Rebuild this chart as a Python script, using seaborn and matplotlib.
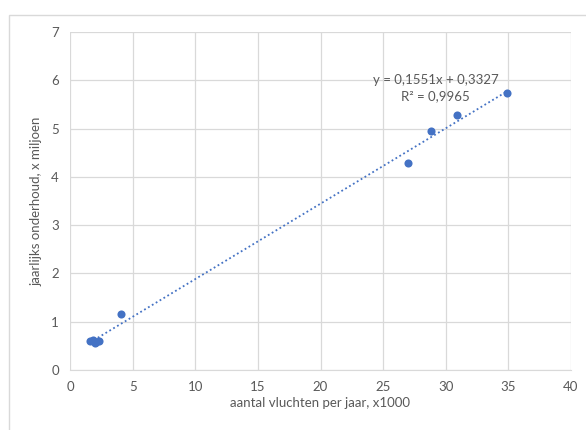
import numpy as np
import pandas as pd
import seaborn as sns
from matplotlib import pyplot as plt
from matplotlib.patches import Rectangle

# vluchten (x1000) en jaarlijks onderhoud (x miljoen)
vluchten = [1.6, 1.8, 2.0, 2.1, 2.3, 4.1, 27.0, 28.8, 30.9, 34.9]
onderhoud = [0.60, 0.62, 0.56, 0.59, 0.61, 1.15, 4.28, 4.94, 5.28, 5.74]
x_ticks = [0, 5, 10, 15, 20, 25, 30, 35, 40]
y_ticks = [0, 1, 2, 3, 4, 5, 6, 7]
trend_label = "y = 0,1551x + 0,3327\nR² = 0,9965"

df = pd.DataFrame({"vluchten": vluchten, "onderhoud": onderhoud})

sns.set_style("white")
plt.rcParams['font.family'] = ['Lato', 'DejaVu Sans']

blue = "#4472c4"
grey = "#595959"

fig = plt.figure(figsize=(5.86, 4.30), dpi=100)
ax = fig.add_axes([70 / 586, 1 - 370 / 430, 501 / 586, 338 / 430])

# light chart border (Excel style)
fig.patches.append(Rectangle((9 / 586, -0.1), 1.2, 1.1 - 15 / 430,
                             transform=fig.transFigure, fill=False,
                             edgecolor="#d9d9d9", linewidth=1))

sns.regplot(data=df, x="vluchten", y="onderhoud", ax=ax, ci=None,
            scatter_kws={"s": 34, "color": blue, "alpha": 1, "linewidths": 0, "zorder": 3},
            line_kws={"color": blue, "linestyle": (0, (1, 1.5)), "linewidth": 1.3})

ax.set_xlim(0, 40)
ax.set_ylim(0, 7)
ax.set_xticks(x_ticks)
ax.set_yticks(y_ticks)
ax.grid(True, color="#d9d9d9", linewidth=0.9)
ax.set_axisbelow(True)
sns.despine(ax=ax, left=True, top=True, right=True)
ax.spines["bottom"].set_color("#d9d9d9")
ax.tick_params(axis="both", length=0, labelsize=9.5, labelcolor=grey, pad=8)

ax.set_xlabel("aantal vluchten per jaar, x1000", color=grey, fontsize=9.5, labelpad=3)
ax.set_ylabel("jaarlijks onderhoud, x miljoen", color=grey, fontsize=9.5, labelpad=6)

ax.text(29.2, 5.84, trend_label, ha="center", va="center", fontsize=9.5,
        color=grey, linespacing=1.4)

fig.savefig("out.png", dpi=100)
